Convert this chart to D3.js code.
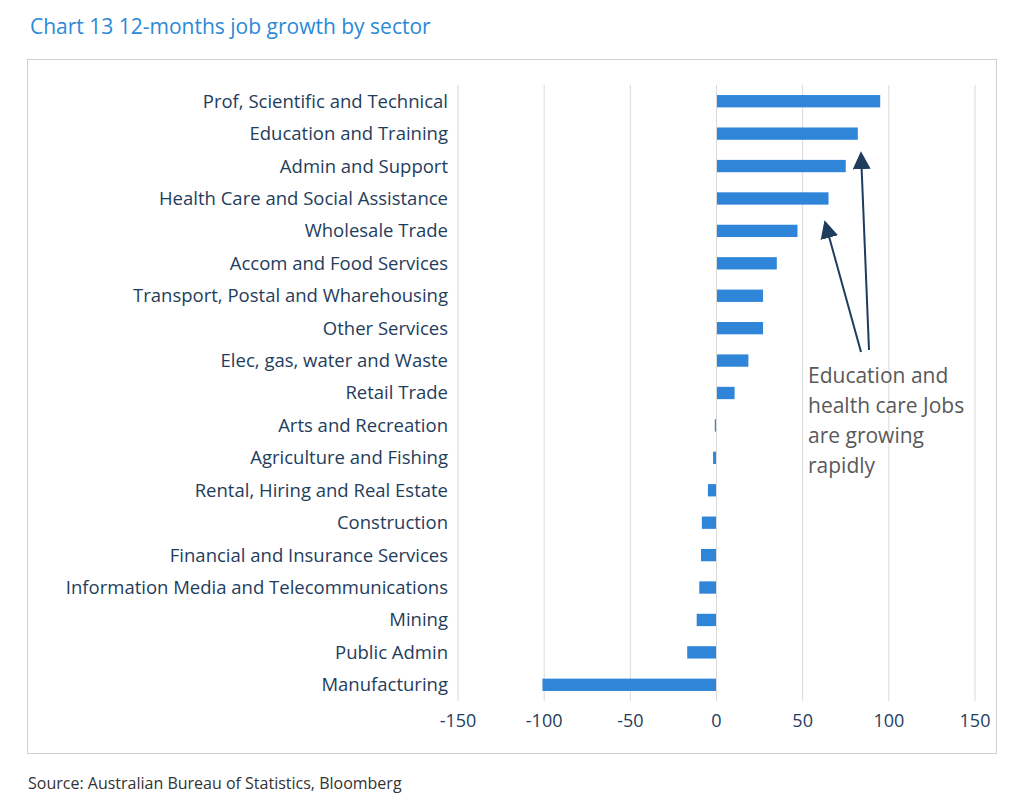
<!DOCTYPE html>
<html><head><meta charset="utf-8">
<script src="https://cdn.jsdelivr.net/npm/d3@7"></script>
<style>body{margin:0;background:#fff;font-family:"Open Sans",sans-serif}</style>
</head><body><div id="chart"></div>
<script>
// Chart 13: 12-months job growth by sector ('000)
var data = [
  {sector: 'Prof, Scientific and Technical', value: 95},
  {sector: 'Education and Training', value: 82},
  {sector: 'Admin and Support', value: 75},
  {sector: 'Health Care and Social Assistance', value: 65},
  {sector: 'Wholesale Trade', value: 47},
  {sector: 'Accom and Food Services', value: 35},
  {sector: 'Transport, Postal and Wharehousing', value: 27},
  {sector: 'Other Services', value: 27},
  {sector: 'Elec, gas, water and Waste', value: 18.5},
  {sector: 'Retail Trade', value: 10.5},
  {sector: 'Arts and Recreation', value: -1},
  {sector: 'Agriculture and Fishing', value: -2},
  {sector: 'Rental, Hiring and Real Estate', value: -5},
  {sector: 'Construction', value: -8.5},
  {sector: 'Financial and Insurance Services', value: -9},
  {sector: 'Information Media and Telecommunications', value: -10},
  {sector: 'Mining', value: -11.5},
  {sector: 'Public Admin', value: -17},
  {sector: 'Manufacturing', value: -101}
];

var svg = d3.select('#chart').append('svg').attr('width', 1024).attr('height', 807);

// Title and source
svg.append('text').attr('x', 30).attr('y', 34).style('font-size', '21px')
  .attr('fill', '#2b8ad6').text('Chart 13 12-months job growth by sector');
svg.append('text').attr('x', 28).attr('y', 789).style('font-size', '16px')
  .attr('fill', '#333').text('Source: Australian Bureau of Statistics, Bloomberg');

// Frame
svg.append('rect').attr('x', 27.5).attr('y', 59.5).attr('width', 969).attr('height', 694)
  .attr('fill', 'none').attr('stroke', '#d0d0d0');

var x = d3.scaleLinear().domain([-150, 150]).range([458, 975]);
var y = d3.scaleBand().domain(data.map(function(d) { return d.sector; }))
  .range([85, 701]).paddingInner(0.62).paddingOuter(0.31);

// Gridlines
svg.selectAll('.grid').data(x.ticks(6)).enter().append('line')
  .attr('x1', function(d) { return x(d); }).attr('x2', function(d) { return x(d); })
  .attr('y1', 85).attr('y2', 701).attr('stroke', '#d9d9d9').attr('stroke-width', 1);

// Axis labels
svg.selectAll('.tick-label').data(x.ticks(6)).enter().append('text')
  .attr('x', function(d) { return x(d); }).attr('y', 727)
  .attr('text-anchor', 'middle').style('font-size', '18px').attr('fill', '#1f3d5c')
  .text(function(d) { return d; });

// Bars
svg.selectAll('.bar').data(data).enter().append('rect')
  .attr('x', function(d) { return x(Math.min(0, d.value)); })
  .attr('y', function(d) { return y(d.sector); })
  .attr('width', function(d) { return Math.abs(x(d.value) - x(0)); })
  .attr('height', y.bandwidth())
  .attr('fill', '#2f86d9');

// Zero line
svg.append('line').attr('x1', x(0)).attr('x2', x(0)).attr('y1', 85).attr('y2', 701)
  .attr('stroke', '#d9d9d9');

// Category labels
svg.selectAll('.cat').data(data).enter().append('text')
  .attr('x', 448).attr('y', function(d) { return y(d.sector) + y.bandwidth() / 2; })
  .attr('dy', '0.35em').attr('text-anchor', 'end')
  .style('font-size', '18.5px').attr('fill', '#1f3d5c')
  .text(function(d) { return d.sector; });

// Annotation
var defs = svg.append('defs');
defs.append('marker').attr('id', 'arr').attr('viewBox', '0 0 10 10').attr('refX', 9).attr('refY', 5)
  .attr('markerWidth', 9).attr('markerHeight', 9).attr('orient', 'auto')
  .append('path').attr('d', 'M0,0L10,5L0,10z').attr('fill', '#1f3d5c');
svg.append('line').attr('x1', 869).attr('y1', 350).attr('x2', 861).attr('y2', 153)
  .attr('stroke', '#1f3d5c').attr('stroke-width', 2).attr('marker-end', 'url(#arr)');
svg.append('line').attr('x1', 861).attr('y1', 352).attr('x2', 825).attr('y2', 222)
  .attr('stroke', '#1f3d5c').attr('stroke-width', 2).attr('marker-end', 'url(#arr)');
var ann = ['Education and', 'health care Jobs', 'are growing', 'rapidly'];
svg.selectAll('.ann').data(ann).enter().append('text')
  .attr('x', 808).attr('y', function(d, i) { return 383 + i * 30; })
  .style('font-size', '21px').attr('fill', '#595959').text(function(d) { return d; });
</script></body></html>
